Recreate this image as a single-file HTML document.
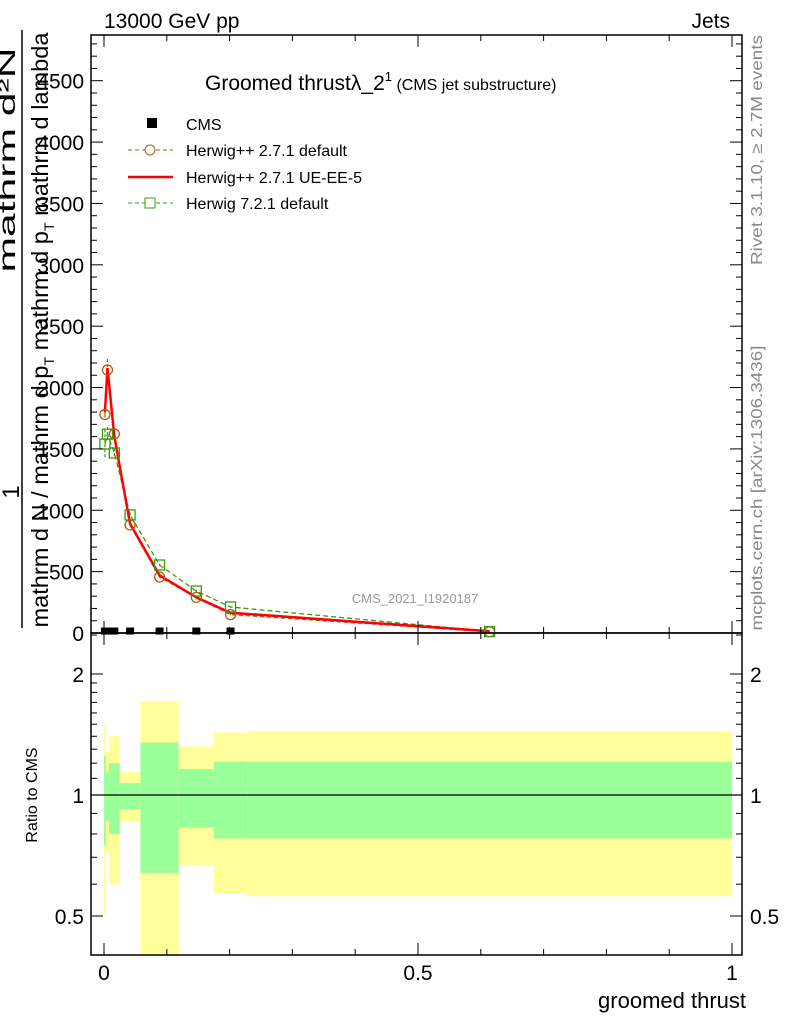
<!DOCTYPE html>
<html><head><meta charset="utf-8"><style>
body{margin:0;background:#fff}
svg{display:block;font-family:"Liberation Sans",sans-serif}
</style></head><body>
<svg id="c" width="786" height="1024" viewBox="0 0 786 1024">
<g id="bands"></g>
<g id="marks"></g>
<g id="axes"></g>
<text x="104" y="28" font-size="21">13000 GeV pp</text>
<text x="730" y="28" font-size="21" text-anchor="end">Jets</text>
<text x="205" y="90" font-size="21">Groomed thrustλ_2<tspan font-size="13" dy="-9">1</tspan><tspan font-size="16" dy="9"> (CMS jet substructure)</tspan></text>
<g>
<rect x="147" y="118" width="10" height="10" fill="#000"/>
<text x="186" y="130" font-size="16">CMS</text>
<line x1="128" y1="150" x2="173" y2="150" stroke="#b35a10" stroke-dasharray="4,3"/>
<circle cx="150" cy="150" r="5" fill="#fff" stroke="#b35a10"/>
<text x="186" y="156" font-size="16">Herwig++ 2.7.1 default</text>
<line x1="128" y1="177" x2="173" y2="177" stroke="#f00" stroke-width="2.5"/>
<text x="186" y="183" font-size="16">Herwig++ 2.7.1 UE-EE-5</text>
<line x1="128" y1="203" x2="173" y2="203" stroke="#3a9a10" stroke-dasharray="4,3"/>
<rect x="145" y="198" width="10" height="10" fill="#fff" stroke="#3a9a10"/>
<text x="186" y="209" font-size="16">Herwig 7.2.1 default</text>
</g>
<text x="415" y="603" font-size="13" fill="#999" text-anchor="middle">CMS_2021_I1920187</text>
<g>
<text transform="translate(19,492) rotate(-90)" font-size="24" text-anchor="middle">1</text>
<line x1="22" y1="30" x2="22" y2="628" stroke="#000" stroke-width="1.5"/>
<text transform="translate(15,160) rotate(-90)" font-size="23" text-anchor="middle" textLength="225" lengthAdjust="spacingAndGlyphs">mathrm d²N</text>
<text transform="translate(48,330) rotate(-90)" font-size="23" text-anchor="middle" textLength="595" lengthAdjust="spacingAndGlyphs">mathrm d N / mathrm d p<tspan font-size="14" dy="6">T</tspan><tspan dy="-6"> mathrm d p</tspan><tspan font-size="14" dy="6">T</tspan><tspan dy="-6"> mathrm d lambda</tspan></text>
</g>
<text transform="translate(37,795) rotate(-90)" font-size="16" text-anchor="middle">Ratio to CMS</text>
<text transform="translate(762,150) rotate(-90)" font-size="16" fill="#888" text-anchor="middle" textLength="230" lengthAdjust="spacingAndGlyphs">Rivet 3.1.10, ≥ 2.7M events</text>
<text transform="translate(762,488) rotate(-90)" font-size="16" fill="#888" text-anchor="middle" textLength="285" lengthAdjust="spacingAndGlyphs">mcplots.cern.ch [arXiv:1306.3436]</text>
<text x="746" y="1008" font-size="22" text-anchor="end">groomed thrust</text>
</svg>
<script>
const edges=[0,0.003,0.008,0.025,0.058,0.119,0.175,0.228,1.0];
const cmsVals=[12,12,12,12,12,12,12,12];
const hppDefault=[1780,2143,1622,880,456,290,150,10];
const hppErr=[40,90,30,20,10,10,5,2];
const hppUEEE5=[1800,2160,1600,890,470,290,165,14];
const h7Default=[1540,1620,1467,962,554,342,212,12];
const h7Err=[120,60,40,20,10,10,5,2];
const yellowUp=[1.49,1.28,1.40,1.14,1.71,1.32,1.43,1.44];
const yellowDn=[0.50,0.72,0.60,0.86,0.30,0.67,0.57,0.56];
const greenUp=[1.25,1.14,1.20,1.07,1.35,1.16,1.21,1.21];
const greenDn=[0.75,0.86,0.80,0.92,0.64,0.83,0.78,0.78];
const mainTicks=[0,500,1000,1500,2000,2500,3000,3500,4000,4500];
const ratioTicks=[0.5,1,2];
const xTicks=[0,0.5,1];
const NS="http://www.w3.org/2000/svg";
const L=91,R=742,T=35,MB=633,RB=955;
const X=v=>104+v*628;
const Y=v=>633-v*0.12273;
const RY=r=>795-402*Math.log10(r);
function mk(par,tag,at){const e=document.createElementNS(NS,tag);for(const k in at)e.setAttribute(k,at[k]);document.getElementById(par).appendChild(e);return e;}
for(let i=0;i<8;i++){
 const x0=X(edges[i]),x1=X(edges[i+1]);
 let e=mk('bands','rect',{x:x0,y:RY(yellowUp[i]),width:x1-x0,height:Math.min(RB,RY(yellowDn[i]))-RY(yellowUp[i]),fill:'#ffff99'});
 
 
 e=mk('bands','rect',{x:x0,y:RY(greenUp[i]),width:x1-x0,height:RY(greenDn[i])-RY(greenUp[i]),fill:'#99ff99'});
 
 
}
let rl=mk('bands','line',{x1:L,x2:R,y1:RY(1),y2:RY(1),stroke:'#000','stroke-width':1.2});


const ctr=edges.slice(0,8).map((e,i)=>(e+edges[i+1])/2);
function series(vals,color,dash,w,name){
 const p=mk('marks','polyline',{points:vals.map((v,i)=>X(ctr[i])+','+Y(v)).join(' '),fill:'none',stroke:color,'stroke-width':w,'stroke-dasharray':dash});
 
 
}
function errs(vals,er,color,name){vals.forEach((v,i)=>{const e=mk('marks','line',{x1:X(ctr[i]),x2:X(ctr[i]),y1:Y(v+er[i]),y2:Y(v-er[i]),stroke:color,'stroke-width':1.2,'stroke-dasharray':'3,2'});
 
 });}
series(h7Default,'#3a9a10','5,3',1.3,'h7-default-line');
series(hppDefault,'#b35a10','4,3',1.3,'hpp-default-line');
errs(h7Default,h7Err,'#3a9a10','h7-error-bar');
errs(hppDefault,hppErr,'#b35a10','hpp-error-bar');
series(hppUEEE5,'#f00','',2.5,'hpp-ueee5-line');
hppDefault.forEach((v,i)=>{const c=mk('marks','circle',{cx:X(ctr[i]),cy:Y(v),r:5,fill:'none',stroke:'#b35a10','stroke-width':1.3});
 
 });
h7Default.forEach((v,i)=>{const c=mk('marks','rect',{x:X(ctr[i])-5,y:Y(v)-5,width:10,height:10,fill:'none',stroke:'#3a9a10','stroke-width':1.3});
 
 });
cmsVals.forEach((v,i)=>{if(i==7)return;const w=8;const c=mk('marks','rect',{x:X(ctr[i])-w/2,y:Y(v)-4,width:w,height:7,fill:'#000'});
 
 });
[[T,MB],[MB,RB]].forEach((b,j)=>{const f=mk('axes','rect',{x:L,y:b[0],width:R-L,height:b[1]-b[0],fill:'none',stroke:'#000','stroke-width':1.5});
 
 });
for(let v=0;v<=4800;v+=100){const y=Y(v);if(y<T)break;const big=v%500==0;
 mk('axes','line',{x1:L,x2:L+(big?12:6),y1:y,y2:y,stroke:'#000'});
 mk('axes','line',{x1:R,x2:R-(big?12:6),y1:y,y2:y,stroke:'#000'});}
mainTicks.forEach(v=>{const t=mk('axes','text',{x:84,y:Y(v)+8,'font-size':21,'text-anchor':'end'});t.textContent=v;
 
 });
[0.4,0.5,0.6,0.7,0.8,0.9,1,1.1,1.2,1.3,1.4,1.5,1.6,1.7,1.8,1.9,2,2.5].forEach(r=>{const y=RY(r);const big=ratioTicks.includes(r);
 mk('axes','line',{x1:L,x2:L+(big?12:6),y1:y,y2:y,stroke:'#000'});
 mk('axes','line',{x1:R,x2:R-(big?12:6),y1:y,y2:y,stroke:'#000'});});
ratioTicks.forEach(r=>{const t=mk('axes','text',{x:84,y:RY(r)+8,'font-size':21,'text-anchor':'end'});t.textContent=r;
 
 
 const t2=mk('axes','text',{x:750,y:RY(r)+8,'font-size':21});t2.textContent=r;
 
 });
for(let v=0;v<=1.0001;v+=0.1){const x=X(v);const big=Math.abs(v*2-Math.round(v*2))<1e-6;
 [[MB,MB-(big?12:6)],[T,T+(big?12:6)],[MB,MB+(big?12:6)],[RB,RB-(big?12:6)]].forEach(p=>mk('axes','line',{x1:x,x2:x,y1:p[0],y2:p[1],stroke:'#000'}));}
xTicks.forEach(v=>{const t=mk('axes','text',{x:X(v),y:980,'font-size':21,'text-anchor':'middle'});t.textContent=v;
 
 });
</script>
</body></html>
